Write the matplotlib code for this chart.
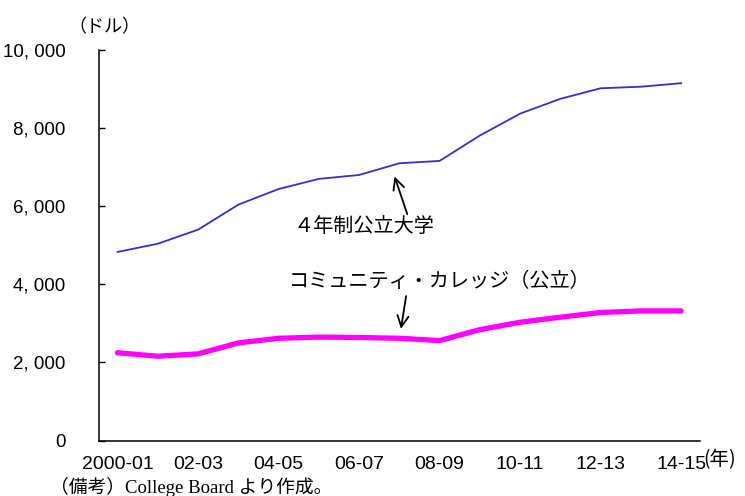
import matplotlib
matplotlib.use("Agg")
import matplotlib.pyplot as plt
from matplotlib.ticker import FuncFormatter

# 授業料・手数料（ドル）
years = ['2000-01', '01-02', '02-03', '03-04', '04-05', '05-06', '06-07', '07-08',
         '08-09', '09-10', '10-11', '11-12', '12-13', '13-14', '14-15']
four_year = [4830, 5040, 5400, 6040, 6440, 6700, 6800, 7100,
             7160, 7810, 8370, 8750, 9020, 9060, 9150]
community = [2250, 2160, 2220, 2500, 2620, 2650, 2640, 2620,
             2560, 2840, 3030, 3160, 3280, 3320, 3320]
y_ticks = [0, 2000, 4000, 6000, 8000, 10000]

jp = ['Noto Sans CJK JP', 'DejaVu Sans']
num = ['Liberation Sans', 'DejaVu Sans']
serif = ['Liberation Serif', 'Noto Sans CJK JP']

fig = plt.figure(figsize=(7.45, 4.96), dpi=100)
ax = fig.add_axes([0.1329, 0.1117, 0.8067, 0.7875])

x = list(range(len(years)))
ax.plot(x, four_year, color='#3030d8', lw=1.3)
ax.plot(x, community, color='#ff00ff', lw=3.8, solid_capstyle='round')

ax.set_xlim(-0.46, 14.47)
ax.set_ylim(0, 10000)
ax.set_yticks(y_ticks)
ax.yaxis.set_major_formatter(FuncFormatter(lambda v, p: '{:,}'.format(int(v)).replace(',', ', ')))
ax.set_xticks(x[::2])
ax.set_xticklabels(years[::2])

for s in ['top', 'right']:
    ax.spines[s].set_visible(False)
for s in ['left', 'bottom']:
    ax.spines[s].set_linewidth(1.1)

ax.tick_params(axis='y', direction='in', length=4, width=1, pad=24)
ax.tick_params(axis='x', length=0, pad=11)
for lab in ax.get_xticklabels():
    lab.set_family(num)
    lab.set_fontsize(14)
for lab in ax.get_yticklabels():
    lab.set_family(num)
    lab.set_fontsize(13.5)

# 系列名と矢印
ax.text(6.12, 5470, '４年制公立大学', family=jp, fontsize=14.5, ha='center', va='center')
ax.annotate('', xy=(6.86, 6830), xytext=(7.22, 5730),
            arrowprops=dict(arrowstyle='->', lw=1.3, color='black', mutation_scale=20))
ax.text(8.0, 4070, 'コミュニティ・カレッジ（公立）', family=jp, fontsize=14.5, ha='center', va='center')
ax.annotate('', xy=(7.03, 2790), xytext=(7.18, 3770),
            arrowprops=dict(arrowstyle='->', lw=1.3, color='black', mutation_scale=20))

fig.text(104 / 745, 1 - 27 / 496, '（ドル）', family=jp, fontsize=13, ha='center', va='center')
fig.text(703 / 745, 1 - 460 / 496, '(年)', family=jp, fontsize=14, ha='left', va='center')
fig.text(50 / 745, 1 - 487 / 496, '（備考）College Board より作成。', family=serif,
         fontsize=13.5, ha='left', va='center')

fig.savefig('out.png', dpi=100)
